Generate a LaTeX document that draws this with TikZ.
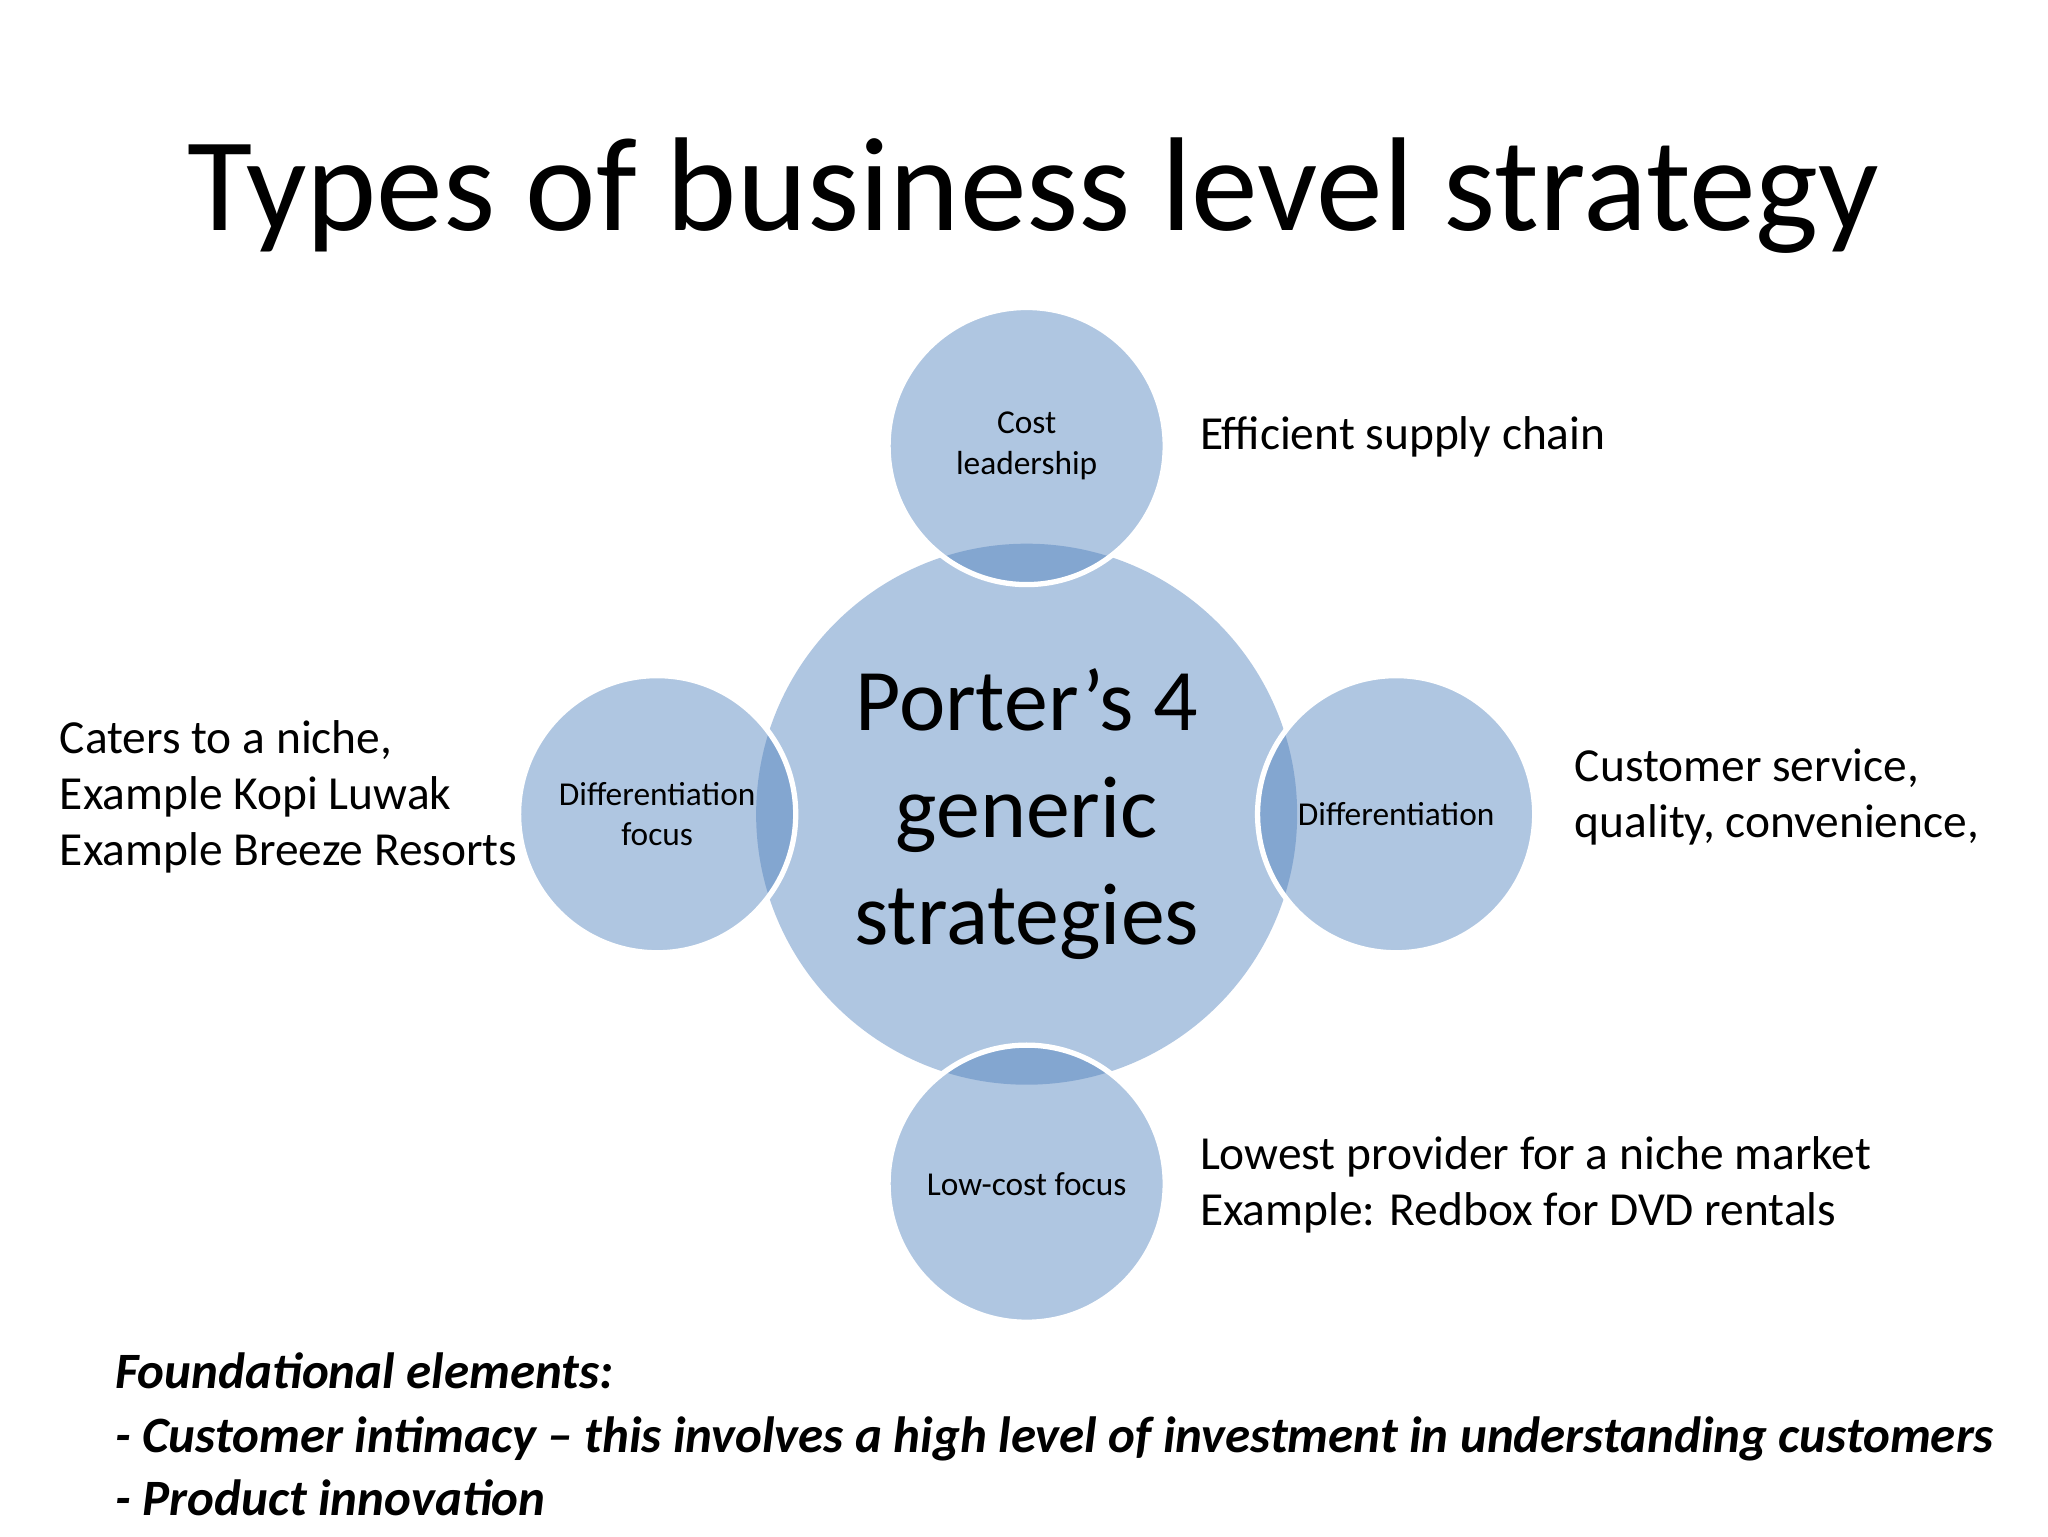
\documentclass[tikz,border=0pt]{standalone}
\usepackage{fontspec}
\setmainfont{Carlito}
\begin{document}
\begin{tikzpicture}[x=0.0132cm,y=-0.0132cm,
  bub/.style={circle,fill={rgb,255:red,79;green,129;blue,189},fill opacity=0.45,text opacity=1,draw=white,line width=1.5pt,inner sep=0pt,align=center,font=\fontsize{9.5}{11.5}\selectfont},
  side/.style={anchor=west,align=left,font=\fontsize{13.5}{16}\selectfont}]
\path[use as bounding box,fill=white] (0,0) rectangle (1552,1164);
\node (title) at (783,148) {\fontsize{38}{44}\selectfont Types of business level strategy};
\node[bub,draw=none,minimum size=410*0.0132cm,font=\fontsize{25}{30.5}\selectfont] (c) at (778,617) {Porter’s 4\\generic\\strategies};
\node[bub,minimum size=210*0.0132cm] (t) at (778,338) {Cost\\leadership};
\node[bub,minimum size=210*0.0132cm] (l) at (498,617) {Differentiation\\focus};
\node[bub,minimum size=210*0.0132cm] (r) at (1058,617) {Differentiation};
\node[bub,minimum size=210*0.0132cm] (b) at (778,897) {Low-cost focus};
\node[side] (tt) at (900,331) {Efficient supply chain};
\node[side] (rt) at (1184,604) {Customer service,\\quality, convenience,};
\node[side] (lt) at (36,604) {Caters to a niche,\\Example Kopi Luwak\\Example Breeze Resorts};
\node[side] (bt) at (900,898) {Lowest provider for a niche market\\Example: Redbox for DVD rentals};
\node[anchor=west,align=left,font=\fontsize{14.5}{18}\selectfont\bfseries\itshape] (ft) at (78,1087) {Foundational elements:\\- Customer intimacy – this involves a high level of investment in understanding customers\\- Product innovation};
\end{tikzpicture}
\end{document}
